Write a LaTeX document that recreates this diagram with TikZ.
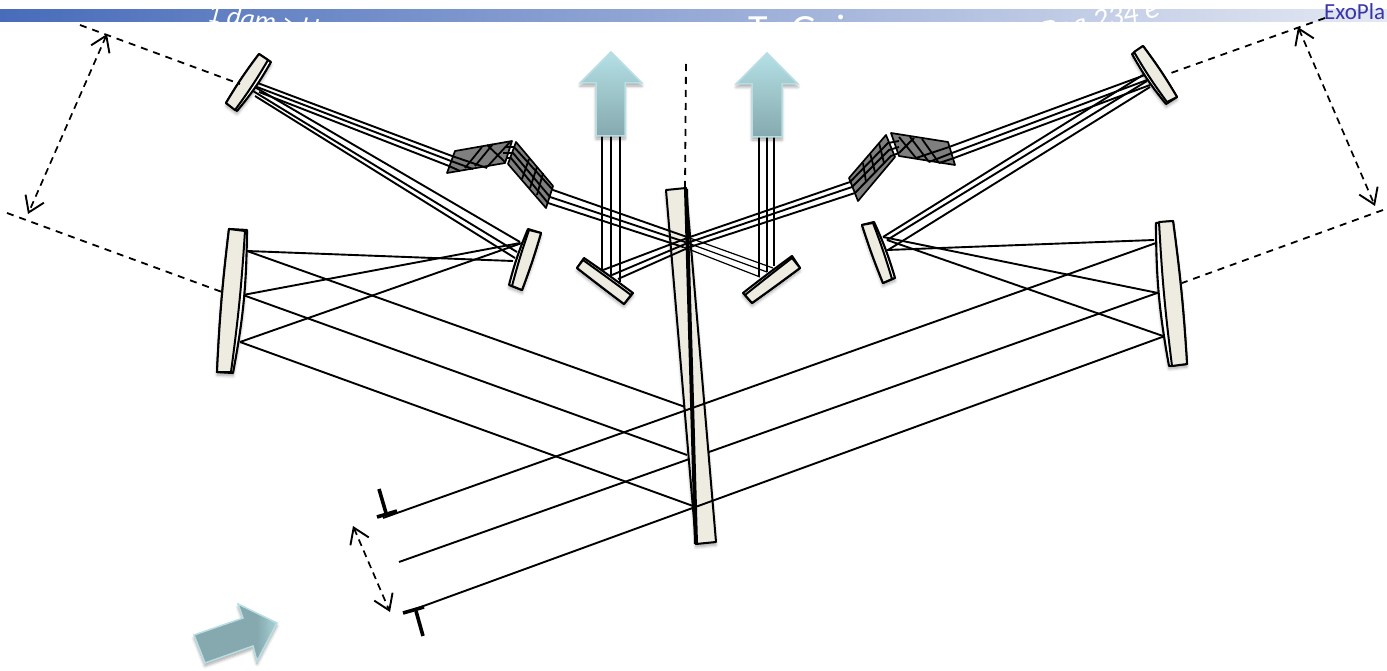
\documentclass[tikz,border=0pt]{standalone}
\usepackage{fontspec}
\setmainfont{Carlito}
\usetikzlibrary{arrows.meta,shadows.blur}
\definecolor{cream}{HTML}{EEECE1}
\definecolor{prismgray}{HTML}{7F7F7F}
\definecolor{arrowtop}{HTML}{B4E0E5}
\definecolor{arrowbot}{HTML}{85A9AE}
\definecolor{arrowedge}{HTML}{B7DEE3}
\definecolor{exo}{HTML}{3A35A8}
\pgfdeclarehorizontalshading{tipshade}{100bp}{color(0bp)=(arrowbot); color(63bp)=(arrowbot); color(75bp)=(arrowtop!75!arrowbot); color(100bp)=(arrowtop!75!arrowbot)}
\tikzset{
  softshadow/.style={blur shadow={shadow xshift=0pt,shadow yshift=-3pt,shadow blur steps=6,shadow blur radius=3pt,shadow opacity=35}},
  mirrorbase/.style={draw=black,line width=2.1pt,line join=round,fill=white,softshadow},
  mirrorfront/.style={draw=black,line width=2pt,line join=round,fill=cream},
  ray/.style={draw=black,line width=1.9pt,line join=round},
  thinray/.style={draw=black,line width=1.2pt},
  dashline/.style={draw=black,line width=1.8pt,dash pattern=on 7pt off 6pt},
  span/.style={draw=black,line width=1.7pt,dash pattern=on 7pt off 5pt,
     {Straight Barb[length=15pt,width=20pt,line width=1.9pt]}-{Straight Barb[length=15pt,width=20pt,line width=1.9pt]}},
  prism/.style={draw=black,line width=1.7pt,line join=round,fill=prismgray},
  hatch/.style={draw=black,line width=1.8pt},
  stopper/.style={draw=black,line width=3.6pt},
  bigarrow/.style={draw=arrowedge,line width=1.5pt,line join=miter,top color=arrowtop,bottom color=arrowbot,softshadow},
  headertext/.style={text=white,inner sep=0pt}
}
% corners in clockwise order: A, B, C, D, inner B, inner C, outer bend, inner bend
\newcommand{\optmirror}[8]{%
  \path[mirrorbase] #1 -- #2 to[bend left=#7] #3 -- #4 to[bend left=#8] cycle;
  \path[mirrorfront] #1 -- #5 to[bend left=#8] #6 -- #4 to[bend left=#8] cycle;
}
\begin{document}
\begin{tikzpicture}[x=1pt,y=-1pt]
\useasboundingbox (0,0) rectangle (1387,671);
% header
\shade[left color={rgb,255:red,72;green,108;blue,186},middle color={rgb,255:red,154;green,170;blue,215},right color={rgb,255:red,228;green,232;blue,242}] (0,10) rectangle (1387,22);
\begin{scope}
\clip (0,10) rectangle (1387,22);
\node[headertext,rotate=-8,font=\itshape\fontsize{27}{27}\selectfont] (ha) at (270,21) {1 dam > Un};
\node[headertext,anchor=base west,font=\fontsize{40}{40}\selectfont] (hb) at (748,43) {T.~~Gaia};
\node[headertext,rotate=12,font=\itshape\fontsize{30}{30}\selectfont] (hc) at (1100,20) {Bea 234 e};
\end{scope}
\node[text=exo,anchor=west,inner sep=0pt,font=\fontsize{23}{23}\selectfont] (exo) at (1324,12) {ExoPla};
% coordinates
\coordinate (bl1) at (247,251); \coordinate (bl2) at (243,295); \coordinate (bl3) at (240,342);
\coordinate (sl0) at (513,261); \coordinate (sl1) at (520,243);
\coordinate (pl1) at (688,408); \coordinate (pl2) at (687,455); \coordinate (pl3) at (693,506);
\coordinate (br1) at (1156,243); \coordinate (br2) at (1160,292); \coordinate (br3) at (1165,336);
\coordinate (st1) at (383,518); \coordinate (st2) at (399,562); \coordinate (st3) at (407,612);
% left fan
\draw[ray] (bl1) -- (sl0);
\draw[ray] (bl2) -- (sl1);
\draw[ray] (bl3) -- (522,243);
\draw[ray] (bl1) -- (pl1);
\draw[ray] (bl2) -- (pl2);
% right fan
\draw[ray] (1154,240) -- (887,250);
\draw[ray] (1158,293) -- (883,237);
\draw[ray] (1163,336) -- (887,240);
% middle incoming ray, behind the plate
\draw[ray] (st2) -- (br2);
% converging triple rays
\draw[ray] (253,86) -- (520,242);
\draw[ray] (253,91) -- (517,252);
\draw[ray] (255,96) -- (515,258);
\draw[ray] (1143,75) -- (883,237);
\draw[ray] (1147,81) -- (887,240);
\draw[ray] (1150,87) -- (888,250);
% central plate
\path[draw=black,line width=2pt,line join=round,fill=cream,softshadow] (666,190) -- (686,188) -- (716,542) -- (696,544) -- cycle;
\draw[black,line width=4pt] (686,189) -- (696,544);
\draw[ray] (bl3) -- (pl3);
\draw[ray] (st1) -- (br1);
\draw[ray] (st3) -- (br3);
% prisms
\path[prism] (455,151) -- (512,141) -- (505,163) -- (447,173) -- cycle;
\path[prism] (516,142) -- (553,186) -- (546,208) -- (508,164) -- cycle;
\path[prism] (886,135) -- (895,157) -- (858,201) -- (849,178) -- cycle;
\path[prism] (891,133) -- (948,142) -- (955,165) -- (899,156) -- cycle;
% vertical outputs
\draw[thinray] (602,136) -- (602,270);
\draw[thinray] (611,136) -- (611,277);
\draw[thinray] (620,136) -- (620,282);
\draw[thinray] (759,137) -- (759,277);
\draw[thinray] (767,137) -- (767,272);
\draw[thinray] (774,137) -- (774,266);
% left beams
\draw[ray] (255,82) -- (452,156) -- (487,168);
\draw[ray] (257,87) -- (451,161) -- (473,169);
\draw[ray] (259,92) -- (449,166) -- (460,171);
\draw[ray] (505,147) -- (514,147) -- (553,190) -- (687,237);
\draw[ray] (503,153) -- (513,153) -- (550,197) -- (685,242);
\draw[ray] (506,158) -- (511,158) -- (548,203) -- (683,247);
\draw[thinray] (687,237) -- (773,268);
\draw[thinray] (685,242) -- (767,272);
\draw[thinray] (683,247) -- (760,277);
% right beams
\draw[ray] (1145,75) -- (949,147) -- (916,158);
\draw[ray] (1147,80) -- (952,153) -- (929,162);
\draw[ray] (1150,85) -- (954,158) -- (939,163);
\draw[ray] (899,141) -- (888,143) -- (850,182) -- (690,237) -- (603,270);
\draw[ray] (899,147) -- (889,150) -- (852,187) -- (690,242) -- (612,275);
\draw[ray] (899,153) -- (891,156) -- (855,193) -- (690,247) -- (618,279);
% hatching
\draw[hatch] (465,168) -- (482,147);
\draw[hatch] (475,166) -- (493,144);
\draw[hatch] (487,167) -- (510,142);
\draw[hatch] (487,145) -- (505,162);
\draw[hatch] (529,159) -- (522,179);
\draw[hatch] (537,167) -- (530,188);
\draw[hatch] (543,173) -- (537,195);
\draw[hatch] (916,158) -- (899,137);
\draw[hatch] (929,162) -- (910,137);
\draw[hatch] (939,163) -- (922,139);
\draw[hatch] (914,138) -- (899,153);
\draw[hatch] (879,143) -- (884,163);
\draw[hatch] (870,153) -- (875,172);
\draw[hatch] (863,163) -- (866,182);
% mirrors
\optmirror{(229,229)}{(247,230)}{(233,373)}{(217,372)}{(245,231)}{(231,372)}{5}{2}
\optmirror{(259,54)}{(271,62)}{(237,111)}{(226,103)}{(268,60)}{(235,110)}{5}{3}
\optmirror{(522,290)}{(509,285)}{(528,229)}{(541,233)}{(512,286)}{(529,230)}{4}{2}
\optmirror{(577,268)}{(584,258)}{(633,293)}{(624,304)}{(583,260)}{(631,295)}{1}{0.5}
\optmirror{(752,303)}{(743,293)}{(792,256)}{(800,268)}{(745,295)}{(792,258)}{1}{0.5}
\optmirror{(862,225)}{(874,222)}{(895,278)}{(883,283)}{(873,223)}{(892,279)}{4}{2}
\optmirror{(1177,97)}{(1166,104)}{(1132,54)}{(1143,46)}{(1167,102)}{(1134,52)}{5}{3}
\optmirror{(1187,364)}{(1169,366)}{(1156,223)}{(1173,221)}{(1172,366)}{(1159,222)}{5}{2}
% dashed guides
\coordinate (dla) at (80,25); \coordinate (dlb) at (240,84);
\coordinate (dlc) at (7,213); \coordinate (dld) at (222,292);
\coordinate (dra) at (1325,18); \coordinate (drb) at (1171,73);
\coordinate (drc) at (1383,210); \coordinate (drd) at (1182,283);
\coordinate (dca) at (686,64); \coordinate (dcb) at (685,188);
\draw[dashline] (dla) -- (dlb);
\draw[dashline] (dlc) -- (dld);
\draw[dashline] (dra) -- (drb);
\draw[dashline] (drc) -- (drd);
\draw[dashline] (dca) -- (dcb);
\coordinate (spa) at (107,34); \coordinate (spb) at (28,214);
\coordinate (spc) at (1298,27); \coordinate (spd) at (1375,206);
\coordinate (spe) at (353,526); \coordinate (spf) at (390,612);
\draw[span] (spa) -- (spb);
\draw[span] (spc) -- (spd);
\draw[span] (spe) -- (spf);
% stops
\draw[stopper] (377,517) -- (397,511);
\draw[stopper] (379,489) -- (386,513);
\draw[stopper] (403,613) -- (424,607);
\draw[stopper] (416,611) -- (423,636);
% arrows
\path[bigarrow] (611,52) -- (642,83) -- (625,83) -- (625,136) -- (596,136) -- (596,83) -- (580,83) -- cycle;
\path[bigarrow] (767,53) -- (798,84) -- (782,84) -- (782,137) -- (752,137) -- (752,84) -- (736,84) -- cycle;
\path[draw=arrowedge,line width=1.5pt,softshadow,shading=tipshade]
  (194,635) -- (243,618) -- (238,604) -- (277,623) -- (257,661) -- (253,646) -- (205,663) -- cycle;
\end{tikzpicture}
\end{document}
